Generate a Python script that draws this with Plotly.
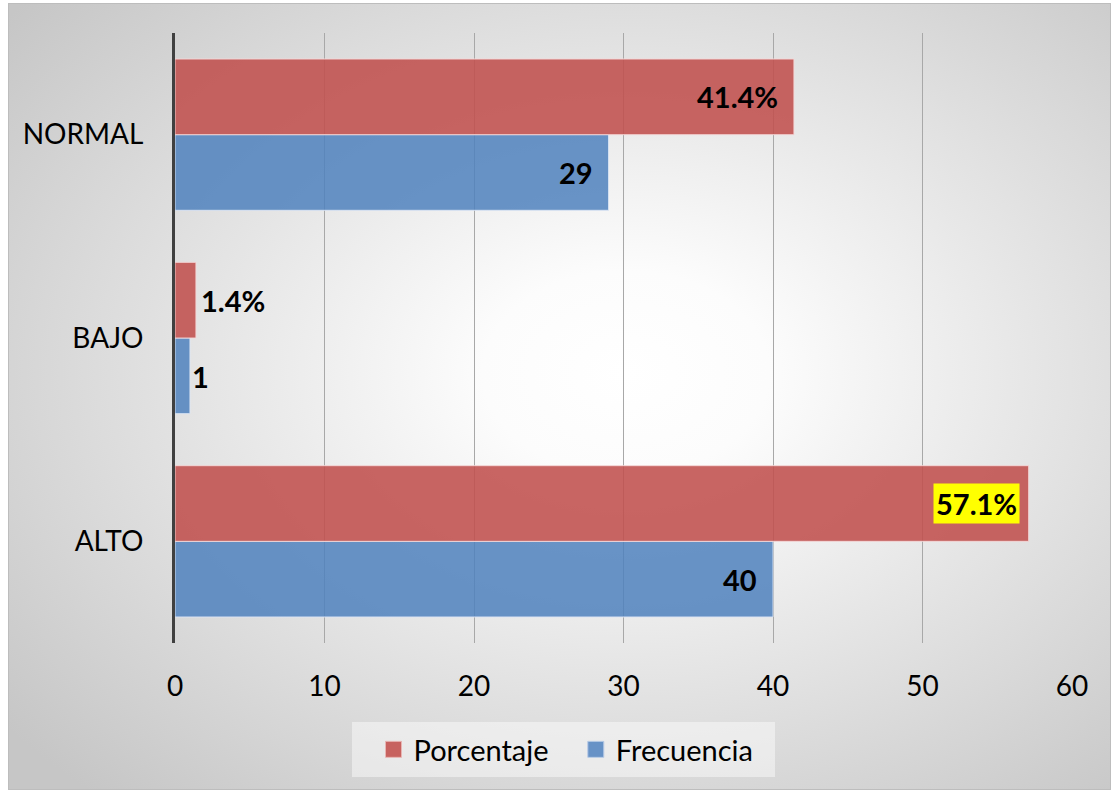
import base64
import plotly.graph_objects as go

categories = ["ALTO", "BAJO", "NORMAL"]
porcentaje = [57.1, 1.4, 41.4]
frecuencia = [40, 1, 29]
porcentaje_labels = ["57.1%", "1.4%", "41.4%"]
frecuencia_labels = ["40", "1", "29"]
x_ticks = [0, 10, 20, 30, 40, 50, 60]

FONT = "Lato, 'Noto Sans', sans-serif"
RED = "rgba(192,80,77,0.88)"
BLUE = "rgba(79,129,189,0.85)"
RED_LEG = "#c7625f"
BLUE_LEG = "#6792c6"

W, H = 1111, 790
ML, MR, MT, MB = 175, 39, 33, 147
PW, PH = W - ML - MR, H - MT - MB

svg = (
    '<svg xmlns="http://www.w3.org/2000/svg" width="1103" height="787" viewBox="0 0 1103 787" preserveAspectRatio="none">'
    '<defs><radialGradient id="g" cx="0.56" cy="0.47" r="0.72">'
    '<stop offset="0" stop-color="#ffffff"/>'
    '<stop offset="0.18" stop-color="#fcfcfc"/>'
    '<stop offset="1" stop-color="#c6c6c6"/>'
    '</radialGradient></defs>'
    '<rect x="0" y="0" width="1103" height="787" fill="url(#g)"/>'
    '<rect x="0.5" y="0.5" width="1102" height="786" fill="none" stroke="#bdbdbd" stroke-width="1"/>'
    '</svg>'
)
src = "data:image/svg+xml;base64," + base64.b64encode(svg.encode()).decode()

def px_to_xpaper(px):
    return (px - ML) / PW

def px_to_ypaper(py):
    return (H - MB - py) / PH

fig = go.Figure()
fig.add_trace(go.Bar(
    y=categories, x=frecuencia, orientation="h", name="Frecuencia",
    marker=dict(color=BLUE, line=dict(color="rgba(220,230,245,0.9)", width=1)),
    showlegend=False,
))
fig.add_trace(go.Bar(
    y=categories, x=porcentaje, orientation="h", name="Porcentaje",
    marker=dict(color=RED, line=dict(color="rgba(245,215,215,0.9)", width=1)),
    showlegend=False,
))
# legend entries with larger square swatches
fig.add_trace(go.Scatter(
    x=[None], y=[None], mode="markers", name="Porcentaje\u00a0\u00a0\u00a0",
    marker=dict(symbol="square", size=16, color=RED_LEG, line=dict(color="#e8b5b3", width=1)),
    legendrank=1, hoverinfo="skip",
))
fig.add_trace(go.Scatter(
    x=[None], y=[None], mode="markers", name="Frecuencia",
    marker=dict(symbol="square", size=16, color=BLUE_LEG, line=dict(color="#b8cbe6", width=1)),
    legendrank=2, hoverinfo="skip",
))

annotations = []
label_font = dict(family=FONT, size=29, color="black", weight="bold")
for cat, v, t in zip(categories, porcentaje, porcentaje_labels):
    small = v < 5
    ann = dict(
        x=v, y=cat, xref="x", yref="y", text="<b>%s</b>" % t, showarrow=False,
        xanchor="left" if small else "right", xshift=3 if small else -14,
        yshift=38, font=label_font, borderpad=1,
    )
    if t == "57.1%":
        ann["bgcolor"] = "#ffff00"
        ann["xshift"] = -9
        ann["borderpad"] = 2
    annotations.append(ann)
for cat, v, t in zip(categories, frecuencia, frecuencia_labels):
    small = v < 5
    annotations.append(dict(
        x=v, y=cat, xref="x", yref="y", text="<b>%s</b>" % t, showarrow=False,
        xanchor="left" if small else "right", xshift=0 if small else -14,
        yshift=-38, font=label_font,
    ))

fig.update_layout(
    width=W, height=H,
    margin=dict(l=ML, r=MR, t=MT, b=MB, pad=0),
    paper_bgcolor="white",
    plot_bgcolor="rgba(0,0,0,0)",
    barmode="group",
    bargap=0.256,
    bargroupgap=0,
    font=dict(family=FONT, size=28, color="black"),
    images=[dict(
        source=src, xref="paper", yref="paper",
        x=px_to_xpaper(8), y=px_to_ypaper(3),
        sizex=px_to_xpaper(1111) - px_to_xpaper(8),
        sizey=px_to_ypaper(3) - px_to_ypaper(790),
        xanchor="left", yanchor="top", sizing="stretch", layer="below",
    )],
    shapes=[dict(
        type="rect", xref="paper", yref="paper", layer="below",
        x0=px_to_xpaper(352), x1=px_to_xpaper(775),
        y0=px_to_ypaper(777), y1=px_to_ypaper(722),
        fillcolor="rgba(255,255,255,0.45)", line=dict(width=0),
    )],
    xaxis=dict(
        range=[0, 60], tickvals=x_ticks, ticktext=[str(v) for v in x_ticks],
        showgrid=True, gridcolor="#a8a8a8", gridwidth=1, zeroline=False,
        showline=False, ticks="", ticklabelstandoff=24,
        tickfont=dict(family=FONT, size=28, color="black"),
    ),
    yaxis=dict(
        categoryorder="array", categoryarray=categories, range=[-0.5, 2.5],
        showline=True, linecolor="#404040", linewidth=3,
        showgrid=False, zeroline=False, ticks="", ticklabelstandoff=23,
        tickfont=dict(family=FONT, size=28, color="black"),
    ),
    legend=dict(
        orientation="h", x=px_to_xpaper(566), xanchor="center",
        y=px_to_ypaper(724), yanchor="top",
        bgcolor="rgba(0,0,0,0)", borderwidth=0,
        font=dict(family=FONT, size=29, color="black"),
        itemsizing="trace", traceorder="normal", itemwidth=30,
    ),
    annotations=annotations,
    showlegend=True,
)

fig.write_html("out.html")
